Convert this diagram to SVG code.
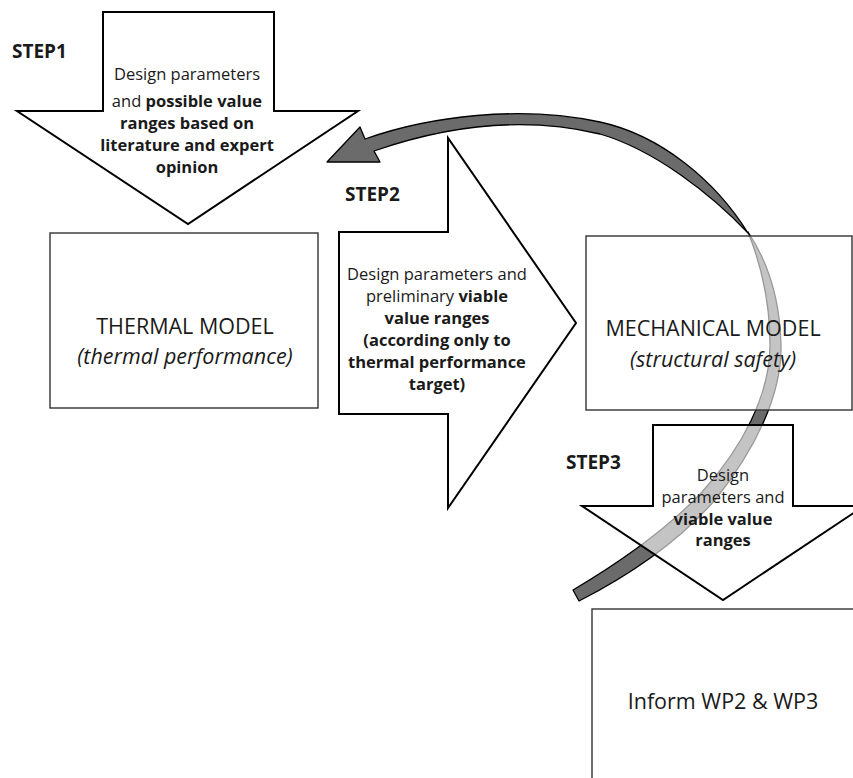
<svg xmlns="http://www.w3.org/2000/svg" width="853" height="778" viewBox="0 0 853 778">
<style>
.shape{fill:#fff;stroke:#000;stroke-width:2;stroke-linejoin:miter}
.ghost{fill:#fff;fill-opacity:0.6;stroke:#000;stroke-width:2}
.box{fill:#fff;stroke:#333;stroke-width:1.4}
.boxg{fill:#fff;fill-opacity:0.6;stroke:#333;stroke-width:1.4}
.band{fill:#6b6b6b;stroke:#000;stroke-width:1.3;stroke-linejoin:round}
.t{font-family:"Open Sans","DejaVu Sans",sans-serif;font-size:16.5px;fill:#1a1a1a;text-anchor:middle}
.b{font-weight:bold}
.big{font-family:"Open Sans","DejaVu Sans",sans-serif;font-size:21.5px;fill:#1a1a1a;text-anchor:middle}
.it{font-style:italic}
.step{font-family:"Open Sans","DejaVu Sans",sans-serif;font-size:19px;font-weight:bold;fill:#1a1a1a}
</style>

<g id="step1">
<path class="shape" d="M103,12 H274 V111 H358 L188,224 L17,111 H103 Z"/>
<text class="step" x="12" y="58">STEP1</text>
<text class="t" x="187" y="80">Design parameters</text>
<text class="t" x="187" y="107">and <tspan class="b">possible value</tspan></text>
<text class="t b" x="187" y="129">ranges based on</text>
<text class="t b" x="187" y="151">literature  and expert</text>
<text class="t b" x="187" y="173">opinion</text>
</g>

<g id="thermal">
<rect class="box" x="50" y="233" width="268" height="175"/>
<text class="big" x="185" y="334">THERMAL MODEL</text>
<text class="big it" x="185" y="364">(thermal performance)</text>
</g>

<g id="step2">
<path class="shape" d="M339,232 H448 V138 L576,323 L448,508 V414 H339 Z"/>
<text class="step" x="345" y="201">STEP2</text>
<text class="t" x="437" y="280">Design parameters and</text>
<text class="t" x="437" y="302">preliminary <tspan class="b">viable</tspan></text>
<text class="t b" x="437" y="324">value ranges</text>
<text class="t b" x="437" y="346">(according only to</text>
<text class="t b" x="437" y="368">thermal performance</text>
<text class="t b" x="437" y="390">target)</text>
</g>

<g id="connectors">
<path class="band" d="M365,139 C430,116 520,105 600,122 C660,135 715,180 748,233 C712,195 655,150 600,134 C520,115 440,128 374,151 L380,162 L327,162 L360,127 Z"/>
<path class="band" d="M748,232 C768,262 780,300 781,345 C782,395 755,450 715,500 C680,540 630,575 579,601 L573,590 C622,561 668,528 702,492 C742,448 770,395 770,345 C770,300 760,262 748,232 Z"/>
</g>

<g id="mechanical">
<rect class="boxg" x="586" y="236" width="266" height="174"/>
<text class="big" x="713" y="336">MECHANICAL MODEL</text>
<text class="big it" x="713" y="367">(structural safety)</text>
</g>

<g id="step3">
<path class="ghost" d="M653,425 H793 V506 H864 L723,600 L582,506 H653 Z"/>
<text class="step" x="566" y="469">STEP3</text>
<text class="t" x="723" y="481">Design</text>
<text class="t" x="723" y="503">parameters and</text>
<text class="t b" x="723" y="525">viable value</text>
<text class="t b" x="723" y="546">ranges</text>
</g>

<g id="inform">
<rect class="box" x="592" y="609" width="300" height="200"/>
<text class="big" x="723" y="709">Inform WP2 &amp; WP3</text>
</g>
</svg>
